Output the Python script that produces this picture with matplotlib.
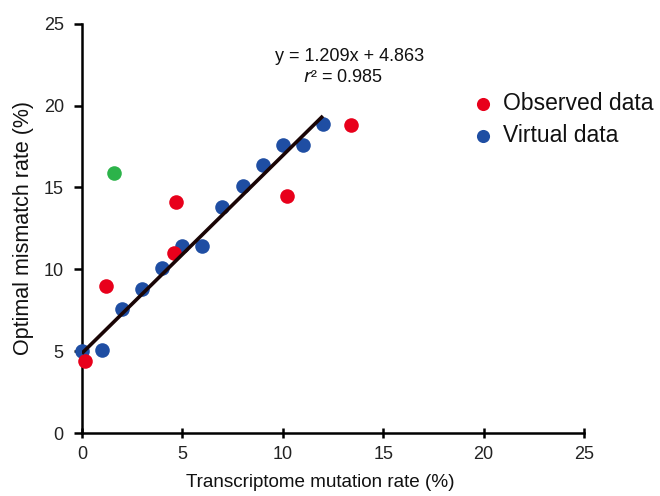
import matplotlib
matplotlib.use("Agg")
import matplotlib.pyplot as plt
import numpy as np

plt.rcParams['font.family'] = ['Liberation Sans', 'DejaVu Sans']

virtual_x = [0, 1, 2, 3, 4, 5, 6, 7, 8, 9, 10, 11, 12]
virtual_y = [5.0, 5.1, 7.6, 8.8, 10.1, 11.4, 11.4, 13.8, 15.1, 16.4, 17.6, 17.6, 18.9]
observed_x = [0.15, 1.2, 4.6, 4.7, 10.2, 13.4]
observed_y = [4.4, 9.0, 11.0, 14.1, 14.5, 18.8]
outlier_x = [1.6]
outlier_y = [15.9]
slope, intercept = 1.209, 4.863
fit_x = [0, 12]
ticks = [0, 5, 10, 15, 20, 25]

fig = plt.figure(figsize=(6.6, 4.96), dpi=100)
ax = fig.add_axes([0.124, 0.127, 0.761, 0.825])

ax.scatter(virtual_x, virtual_y, s=110, color='#1f4ea3', zorder=3, linewidths=0, label='Virtual data')
ax.scatter(observed_x, observed_y, s=110, color='#e8001b', zorder=3, linewidths=0, label='Observed data')
ax.scatter(outlier_x, outlier_y, s=110, color='#2cb34a', zorder=3, linewidths=0)
fx = np.array(fit_x, dtype=float)
ax.plot(fx, slope * fx + intercept, color='#1a0505', lw=2.6, zorder=4, solid_capstyle='butt')

ax.set_xlim(0, 25)
ax.set_ylim(0, 25)
ax.set_xticks(ticks)
ax.set_yticks(ticks)
for s in ['top', 'right']:
    ax.spines[s].set_visible(False)
for s in ['left', 'bottom']:
    ax.spines[s].set_linewidth(1.8)
ax.tick_params(axis='both', labelsize=13, width=1.8, length=6, direction='out', color='black', colors='#222222')
ax.tick_params(axis='y', pad=7)
ax.tick_params(axis='x', direction='inout', length=7, pad=6)

ax.set_xlabel('Transcriptome mutation rate (%)', fontsize=13.6, color='#111111')
ax.xaxis.set_label_coords(0.475, -0.1)
ax.set_ylabel('Optimal mismatch rate (%)', fontsize=15.5, labelpad=7, color='#111111')

ax.text(13.35, 23.0, 'y = 1.209x + 4.863', fontsize=13, ha='center', va='center', color='#111111')
ax.text(13.0, 21.75, r'$\mathit{r}$² = 0.985', fontsize=13, ha='center', va='center', color='#111111')

handles, labels = ax.get_legend_handles_labels()
leg = ax.legend([handles[1], handles[0]], [labels[1], labels[0]], loc='upper left',
          bbox_to_anchor=(0.753, 0.856), frameon=False, fontsize=16.5,
          handletextpad=0.27, labelspacing=0.38, markerscale=0.9, borderaxespad=0,
          handlelength=1.2)
for t in leg.get_texts():
    t.set_color('#111111')

for c in ax.collections:
    c.set_clip_on(False)

fig.savefig('out.png', dpi=100)
